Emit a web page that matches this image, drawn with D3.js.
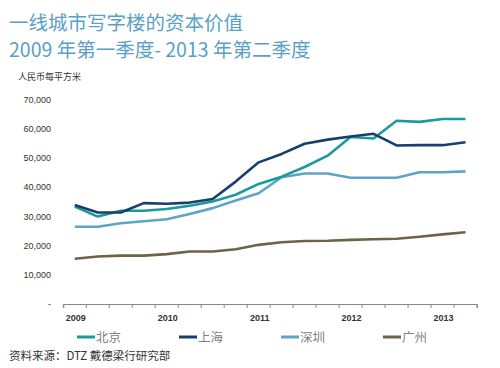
<!DOCTYPE html>
<html><head><meta charset="utf-8">
<script src="https://cdn.jsdelivr.net/npm/d3@7"></script>
<style>
body{margin:0;background:#fff;}
svg{display:block;}
</style></head>
<body><svg id="c" width="500" height="368"></svg>
<script>
const quarters = ["2009Q1","2009Q2","2009Q3","2009Q4","2010Q1","2010Q2","2010Q3","2010Q4","2011Q1","2011Q2","2011Q3","2011Q4","2012Q1","2012Q2","2012Q3","2012Q4","2013Q1","2013Q2"];
const beijing   = [33400,30000,32000,32000,32600,33700,35200,37500,41200,43700,47000,50900,57300,56800,62900,62500,63500,63500];
const shanghai  = [34000,31400,31400,34600,34400,34800,36000,42000,48600,51500,55000,56400,57500,58400,54400,54500,54500,55500];
const shenzhen  = [26500,26500,27700,28400,29100,30900,32900,35500,38000,43500,44800,44800,43300,43300,43300,45200,45200,45500];
const guangzhou = [15500,16300,16600,16600,17100,18000,18000,18800,20300,21200,21600,21700,22000,22200,22400,23100,23900,24600];
const seriesNames = ["北京","上海","深圳","广州"];
const seriesColors = ["#1b9a9c","#173f6d","#5ea4c6","#6e6248"];
const yTicks = [0,10000,20000,30000,40000,50000,60000,70000];
const yearLabels = {"2009Q1":"2009","2010Q1":"2010","2011Q1":"2011","2012Q1":"2012","2013Q1":"2013"};

const series = [beijing, shanghai, shenzhen, guangzhou];
const svg = d3.select("#c");
const cjk = "'Noto Sans CJK SC', 'Noto Sans', sans-serif";
const lat = "'Liberation Sans', Arial, sans-serif";

const x = d3.scaleBand().domain(quarters).range([63.3, 477]);
const y = d3.scaleLinear().domain([0,70000]).range([304, 100]);

// title
svg.append("text").attr("x",9).attr("y",30).attr("font-family",cjk).attr("font-size",19.5)
  .attr("fill","#5a9fc6").text("一线城市写字楼的资本价值");
svg.append("text").attr("x",9).attr("y",57).attr("font-family",cjk).attr("font-size",19.5)
  .attr("fill","#5a9fc6").text("2009 年第一季度- 2013 年第二季度");
svg.append("text").attr("x",18).attr("y",80).attr("font-family",cjk).attr("font-size",9)
  .attr("fill","#333").text("人民币每平方米");

// y labels
svg.append("g").selectAll("text").data(yTicks).join("text")
  .attr("x",51).attr("y",d=>y(d)+3).attr("text-anchor","end")
  .attr("font-family",lat).attr("font-size",9).attr("fill","#333")
  .text(d=> d===0 ? "-" : d3.format(",")(d));

// x axis
const xAxis = d3.axisBottom(x).tickSize(4).tickFormat("");
const gx = svg.append("g").attr("transform","translate(0,304)").call(xAxis);
gx.select(".domain").attr("stroke","#888");
gx.selectAll(".tick").remove();
const bounds = quarters.map(q=>x(q)).concat([x.range()[1]]);
gx.selectAll("line.t").data(bounds).join("line").attr("class","t")
  .attr("x1",d=>d).attr("x2",d=>d).attr("y1",0).attr("y2",4).attr("stroke","#888");
gx.selectAll("text.yl").data(quarters.filter(q=>yearLabels[q])).join("text").attr("class","yl")
  .attr("x",d=>x(d)+x.bandwidth()/2+1).attr("y",17).attr("text-anchor","middle")
  .attr("font-family",lat).attr("font-size",9).attr("font-weight","bold").attr("fill","#333")
  .text(d=>yearLabels[d]);

// lines
const line = d3.line().x((d,i)=>x(quarters[i])+x.bandwidth()/2).y(d=>y(d));
const drawOrder = [3,2,0,1];
drawOrder.forEach(k=>{
  svg.append("path").datum(series[k]).attr("d",line).attr("fill","none")
    .attr("stroke",seriesColors[k]).attr("stroke-width",2.6).attr("stroke-linejoin","round");
});

// legend
const legX = [77,179,281,383];
seriesNames.forEach((n,i)=>{
  svg.append("line").attr("x1",legX[i]).attr("x2",legX[i]+18).attr("y1",337).attr("y2",337)
    .attr("stroke",seriesColors[i]).attr("stroke-width",3);
  svg.append("text").attr("x",legX[i]+19).attr("y",342).attr("font-family",cjk).attr("font-size",12.5)
    .attr("fill","#808080").text(n);
});

svg.append("text").attr("x",9).attr("y",360).attr("font-family",cjk).attr("font-size",11.5)
  .attr("fill","#333").text("资料来源：DTZ 戴德梁行研究部");
</script></body></html>
